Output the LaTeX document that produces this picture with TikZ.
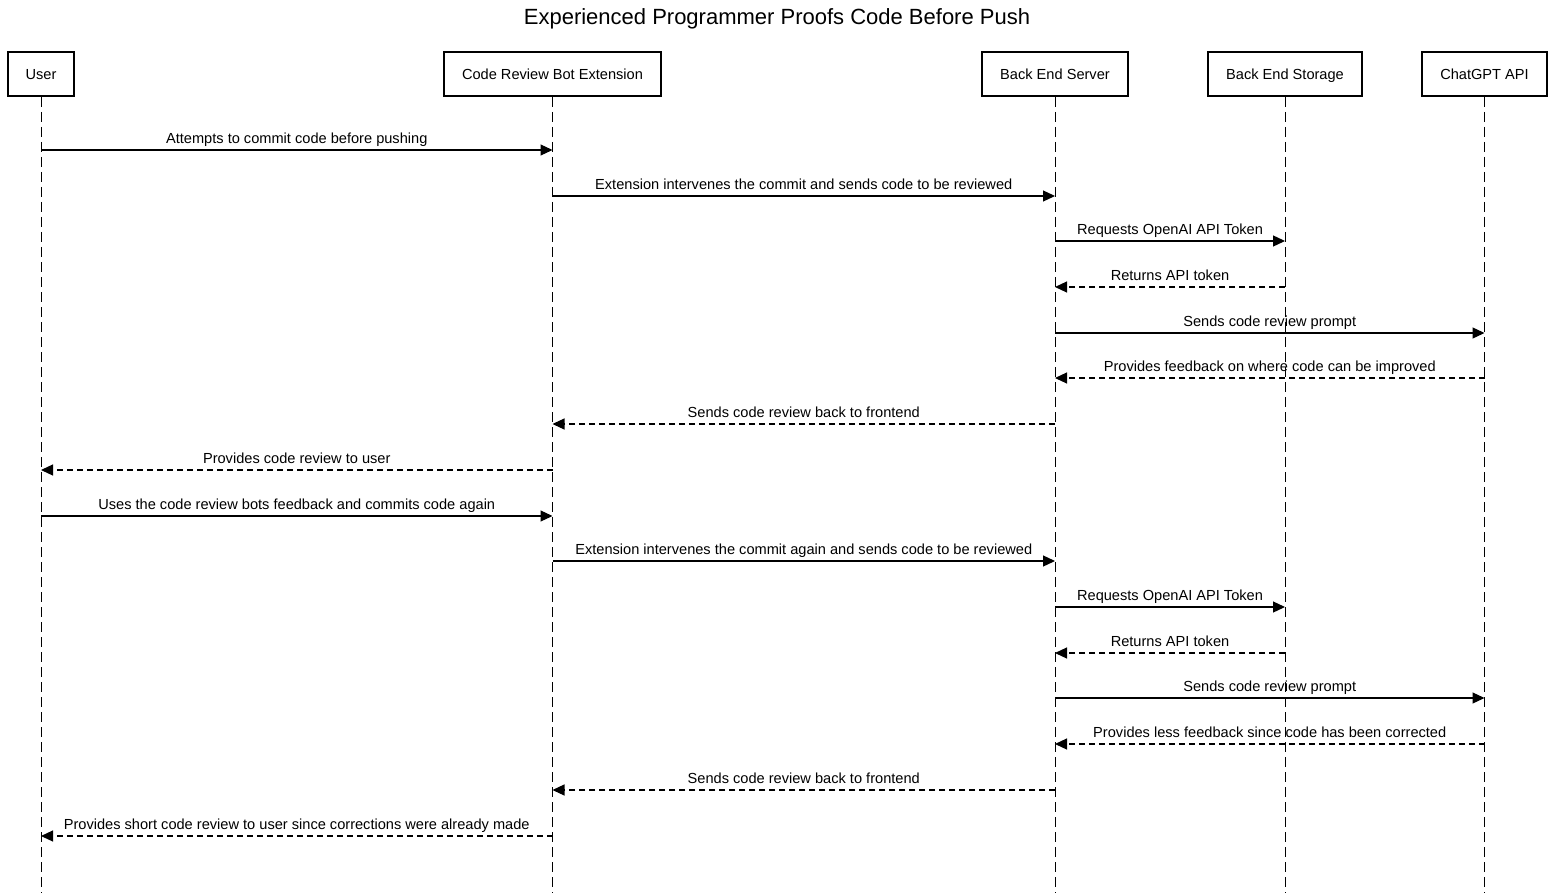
\documentclass[tikz,border=0pt]{standalone}
\usepackage{fontspec}
\setmainfont{Liberation Sans}
\usetikzlibrary{arrows.meta}
\begin{document}
\begin{tikzpicture}[x=1pt,y=-1pt,
  actor/.style={draw=black,line width=2pt,fill=white,minimum height=44pt,inner sep=0pt,text height=12.3pt,text depth=1.5pt,font=\fontsize{14.6}{16}\selectfont},
  lifeline/.style={draw=black,line width=1pt,dash pattern=on 10pt off 5pt},
  call/.style={draw=black,line width=1.2pt,-{Triangle[length=12pt,width=11pt]}},
  reply/.style={call,dash pattern=on 6pt off 4pt},
  msglabel/.style={font=\fontsize{14.6}{16}\selectfont,anchor=base,inner sep=0pt}]
\useasboundingbox (0,0) rectangle (1554,893);
\node[font=\fontsize{22}{26}\selectfont] (title) at (777,18.5) {Experienced Programmer Proofs Code Before Push};
\node[actor,minimum width=66pt] (user) at (41,74) {User};
\node[actor,minimum width=217pt] (bot) at (552.5,74) {Code Review Bot Extension};
\node[actor,minimum width=146pt] (server) at (1055,74) {Back End Server};
\node[actor,minimum width=154pt] (storage) at (1285,74) {Back End Storage};
\node[actor,minimum width=125pt] (gpt) at (1484.5,74) {ChatGPT API};
\foreach \n in {user,bot,server,storage,gpt}{
  \coordinate (\n-end) at (\n |- 0,893);
  \draw[lifeline] (\n.south) -- (\n-end);
}
\newcommand{\msgline}[5]{%
  \coordinate (a) at (#1 |- 0,#3);
  \coordinate (b) at (#2 |- 0,#3);
  \draw[#4] (a) -- (b);
  \path (a) -- node[msglabel,pos=0.5,yshift=6.5pt] {#5} (b);
}
\msgline{user}{bot}{150}{call}{Attempts to commit code before pushing}
\msgline{bot}{server}{196}{call}{Extension intervenes the commit and sends code to be reviewed}
\msgline{server}{storage}{241}{call}{Requests OpenAI API Token}
\msgline{storage}{server}{287}{reply}{Returns API token}
\msgline{server}{gpt}{333}{call}{Sends code review prompt}
\msgline{gpt}{server}{378}{reply}{Provides feedback on where code can be improved}
\msgline{server}{bot}{424}{reply}{Sends code review back to frontend}
\msgline{bot}{user}{470}{reply}{Provides code review to user}
\msgline{user}{bot}{516}{call}{Uses the code review bots feedback and commits code again}
\msgline{bot}{server}{561}{call}{Extension intervenes the commit again and sends code to be reviewed}
\msgline{server}{storage}{607}{call}{Requests OpenAI API Token}
\msgline{storage}{server}{653}{reply}{Returns API token}
\msgline{server}{gpt}{698}{call}{Sends code review prompt}
\msgline{gpt}{server}{744}{reply}{Provides less feedback since code has been corrected}
\msgline{server}{bot}{790}{reply}{Sends code review back to frontend}
\msgline{bot}{user}{836}{reply}{Provides short code review to user since corrections were already made}
\end{tikzpicture}
\end{document}
